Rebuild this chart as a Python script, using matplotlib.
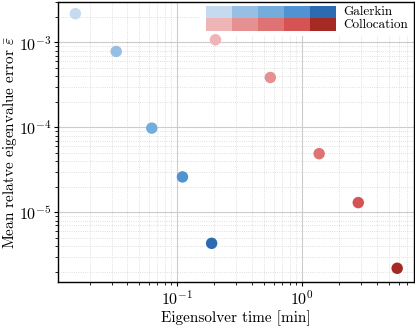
import matplotlib
matplotlib.use("Agg")
import matplotlib.pyplot as plt
from matplotlib.patches import Rectangle

# eigensolver time [min] and mean relative eigenvalue error
galerkin_time = [0.0154, 0.0327, 0.063, 0.111, 0.19]
galerkin_err = [2.18e-3, 7.84e-4, 9.8e-5, 2.61e-5, 4.31e-6]
colloc_time = [0.204, 0.561, 1.38, 2.84, 5.82]
colloc_err = [1.076e-3, 3.87e-4, 4.9e-5, 1.3e-5, 2.19e-6]
series_names = ["Galerkin", "Collocation"]

blues = ["#c5daef", "#97bfe3", "#74addc", "#4f93d3", "#2a6bb1"]
reds = ["#efb4b6", "#e69191", "#df7272", "#d65353", "#a52a24"]

plt.rcParams["font.family"] = "cmr10"
plt.rcParams["mathtext.fontset"] = "cm"
plt.rcParams["axes.formatter.use_mathtext"] = True
plt.rcParams["font.size"] = 11

fig = plt.figure(figsize=(4.15, 3.26), dpi=100)
ax = fig.add_axes([0.140, 0.135, 0.857, 0.859])

ax.scatter(galerkin_time, galerkin_err, c=blues, s=68, zorder=3, linewidths=0)
ax.scatter(colloc_time, colloc_err, c=reds, s=68, zorder=3, linewidths=0)

ax.set_xscale("log")
ax.set_yscale("log")
ax.set_xlim(0.0112, 7.9)
ax.set_ylim(1.51e-6, 3.0e-3)

ax.grid(True, which="major", color="#cccccc", linewidth=0.8, linestyle="-")
ax.grid(True, which="minor", color="#d5d5d5", linewidth=0.6, linestyle=":")
ax.set_axisbelow(True)
for sp in ax.spines.values():
    sp.set_linewidth(1.0)
ax.tick_params(which="major", length=3, width=0.8, pad=2, labelsize=11.5)
ax.tick_params(which="minor", length=2, width=0.6)

ax.set_xlabel("Eigensolver time [min]", fontsize=11, labelpad=2)
ax.set_ylabel(r"Mean relatve eigenvalue error $\bar{\varepsilon}$", fontsize=11)
ax.yaxis.set_label_coords(-0.110, 0.5)

# legend: two rows of colour swatches
ax.add_patch(Rectangle((0.40, 0.88), 0.60, 0.12, transform=ax.transAxes,
                       facecolor="white", edgecolor="none", zorder=1))
x0, w, h, top = 0.415, 0.073, 0.0455, 0.987
for row, pal in enumerate([blues, reds]):
    for i, col in enumerate(pal):
        ax.add_patch(Rectangle((x0 + i * w, top - (row + 1) * h), w, h,
                               transform=ax.transAxes, facecolor=col,
                               edgecolor="none", zorder=2))
    ax.text(0.801, top - (row + 0.5) * h, series_names[row], transform=ax.transAxes,
            va="center", ha="left", fontsize=9.5, zorder=2)

fig.savefig("out.png", dpi=100)
